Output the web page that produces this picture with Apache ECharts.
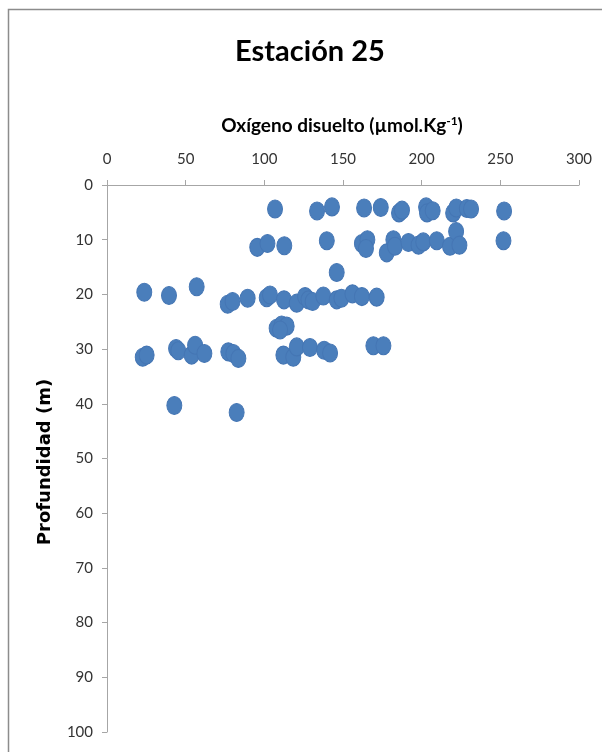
<!DOCTYPE html>
<html>
<head>
<meta charset="utf-8">
<script src="https://cdn.jsdelivr.net/npm/echarts@6/dist/echarts.min.js"></script>
<style>html,body{margin:0;padding:0;background:#fff}#c{width:602px;height:752px}</style>
</head>
<body>
<div id="c"></div>
<script>
// Oxígeno disuelto (µmol/kg) and Profundidad (m)
var oxygen = [
  106.8,133.5,143,163.4,174,185.6,187.5,202.8,203.4,207,220,222,228.7,231.4,252.4,
  95.5,102,112.7,139.7,162,165.5,164.6,177.8,182,183,191.6,198,201,209.6,218,221.9,224,252,
  146,
  23.7,39.4,57,76.7,79.8,89.4,101.5,103.6,112.5,120.6,125.9,128,130.7,137.5,146,149,156,162,171.4,
  107.8,111,114.2,110,
  22.7,25.2,43.9,45.3,53.8,56,61.9,77.1,80.3,83.5,112.1,118.4,120.6,129,138,141.8,169.3,175.7,
  42.8,82.4
];
var depth = [
  4.4,4.75,4.0,4.2,4.1,5.1,4.6,4.0,5.1,4.7,5.1,4.2,4.3,4.4,4.75,
  11.4,10.7,11.1,10.2,10.7,10.0,11.6,12.4,10.0,11.2,10.5,11.0,10.4,10.2,11.2,8.5,11.0,10.2,
  16.0,
  19.6,20.2,18.6,21.8,21.3,20.7,20.6,20.1,21.0,21.6,20.4,21.0,21.3,20.3,21.0,20.7,19.9,20.4,20.5,
  26.2,25.6,25.8,26.5,
  31.5,31.1,29.9,30.3,31.1,29.3,30.8,30.5,30.8,31.7,31.1,31.5,29.6,29.7,30.2,30.7,29.4,29.4,
  40.3,41.6
];
var xTicks = [0,50,100,150,200,250,300];
var yTicks = [0,10,20,30,40,50,60,70,80,90,100];
var chartTitle = 'Estación 25';
var xTitle = 'Oxígeno disuelto (µmol.Kg';
var xTitleSup = '-1';
var yTitle = 'Profundidad (m)';

var pts = oxygen.map(function(v,i){return [v, depth[i]];});
var chart = echarts.init(document.getElementById('c'));
var labelFont = {fontFamily:'Lato', fontSize:15, color:'#333'};
chart.setOption({
  animation:false,
  grid:{left:107, top:185, right:23, bottom:20},
  xAxis:{type:'value', position:'top', min:xTicks[0], max:xTicks[xTicks.length-1], interval:50,
    axisLine:{show:true, lineStyle:{color:'#a6a6a6', width:1}},
    axisTick:{show:true, length:5, inside:false, lineStyle:{color:'#a6a6a6'}},
    splitLine:{show:false},
    axisLabel:Object.assign({margin:18}, labelFont)},
  yAxis:{type:'value', inverse:true, min:yTicks[0], max:yTicks[yTicks.length-1], interval:10,
    axisLine:{show:true, lineStyle:{color:'#a6a6a6', width:1}},
    axisTick:{show:true, length:5, inside:false, lineStyle:{color:'#a6a6a6'}},
    splitLine:{show:false},
    axisLabel:Object.assign({margin:14}, labelFont)},
  series:[{type:'scatter', data:pts, symbol:'circle', symbolSize:[15,18],
    itemStyle:{color:'#4A7EBB', borderColor:'#4576B4', borderWidth:1, opacity:1}}],
  graphic:[
    {type:'rect', shape:{x:8.5,y:9.5,width:640,height:800}, style:{fill:'none', stroke:'#8c8c8c', lineWidth:1.5}, silent:true},
    {type:'text', x:310, y:52, style:{text:chartTitle, textAlign:'center', textVerticalAlign:'middle',
      font:'bold 29px Lato', fill:'#000'}},
    {type:'text', x:342, y:126, style:{text:'{a|'+xTitle+'}{s|'+xTitleSup+'}{a|)}', textAlign:'center', textVerticalAlign:'middle',
      rich:{a:{fontFamily:'Lato', fontWeight:'bold', fontSize:19, fill:'#000', color:'#000'},
            s:{fontFamily:'Lato', fontWeight:'bold', fontSize:12, color:'#000', verticalAlign:'top', padding:[0,0,9,0]}}}},
    {type:'text', x:45, y:462, rotation:Math.PI/2, style:{text:yTitle, textAlign:'center', textVerticalAlign:'middle',
      font:'bold 18px "DejaVu Sans"', fill:'#000'}}
  ]
});
</script>
</body>
</html>
